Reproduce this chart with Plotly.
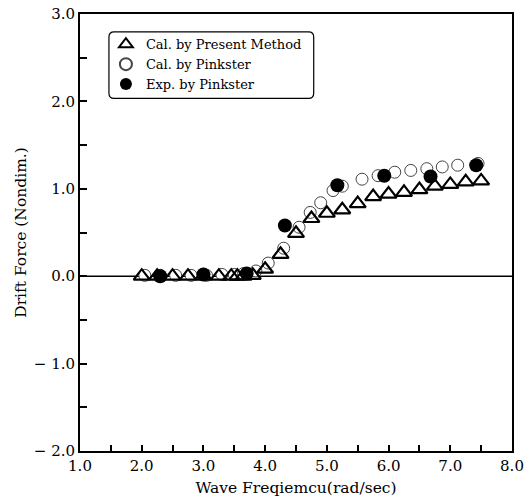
import plotly.graph_objects as go

# ---- data ----
present_x = [2.0, 2.25, 2.5, 2.75, 3.0, 3.25, 3.45, 3.55, 3.65, 3.8, 4.0, 4.25, 4.5, 4.75,
             5.0, 5.25, 5.5, 5.75, 6.0, 6.25, 6.5, 6.75, 7.0, 7.25, 7.5]
present_y = [0.0, 0.0, 0.0, 0.0, 0.0, 0.0, 0.0, 0.0, 0.0, 0.01, 0.08, 0.25, 0.49, 0.66,
             0.72, 0.76, 0.83, 0.91, 0.94, 0.96, 0.99, 1.03, 1.05, 1.08, 1.09]

pink_cal_x = [2.05, 2.3, 2.55, 2.8, 3.05, 3.3, 3.5, 3.65, 3.85, 4.05, 4.3, 4.55, 4.73, 4.9,
              5.1, 5.25, 5.57, 5.83, 6.1, 6.36, 6.62, 6.87, 7.12, 7.45]
pink_cal_y = [0.01, 0.01, 0.01, 0.01, 0.01, 0.02, 0.02, 0.03, 0.06, 0.15, 0.32, 0.56, 0.73, 0.84,
              0.98, 1.03, 1.11, 1.15, 1.19, 1.21, 1.23, 1.25, 1.27, 1.29]

pink_exp_x = [2.3, 3.0, 3.7, 4.32, 5.17, 5.93, 6.68, 7.42]
pink_exp_y = [0.0, 0.02, 0.03, 0.58, 1.04, 1.15, 1.14, 1.27]

x_tickvals = [1.0, 1.5, 2.0, 2.5, 3.0, 3.5, 4.0, 4.5, 5.0, 5.5, 6.0, 6.5, 7.0, 7.5, 8.0]
x_ticktext = ["1.0", "", "2.0", "", "3.0", "", "4.0", "", "5.0", "", "6.0", "", "7.0", "", "8.0"]
y_tickvals = [-2.0, -1.5, -1.0, -0.5, 0.0, 0.5, 1.0, 1.5, 2.0, 2.5, 3.0]
y_ticktext = ["\u2212 2.0", "", "\u2212 1.0", "", "0.0", "", "1.0", "", "2.0", "", "3.0"]

FONT = "DejaVu Serif"

fig = go.Figure()

fig.add_trace(go.Scatter(
    x=pink_cal_x, y=pink_cal_y, mode="markers", name="Cal. by Pinkster",
    legendrank=2,
    marker=dict(symbol="circle", size=12, color="white",
                line=dict(color="#444444", width=1)),
))
fig.add_trace(go.Scatter(
    x=present_x, y=present_y, mode="markers", name="Cal. by Present Method",
    legendrank=1,
    marker=dict(symbol="triangle-up-open", size=14, color="black",
                line=dict(color="black", width=2.2)),
))
fig.add_trace(go.Scatter(
    x=pink_exp_x, y=pink_exp_y, mode="markers", name="Exp. by Pinkster",
    legendrank=3,
    marker=dict(symbol="circle", size=14, color="black",
                line=dict(color="black", width=0)),
))

# zero line
fig.add_shape(type="line", xref="paper", x0=0, x1=1, yref="y", y0=0, y1=0,
              line=dict(color="black", width=1.5), layer="below")

# rounded legend frame (paper coords)
x0, x1, y0, y1, r = 0.067, 0.541, 0.807, 0.959, 0.012
ry = r * 432 / 437
path = (f"M {x0+r},{y1} L {x1-r},{y1} Q {x1},{y1} {x1},{y1-ry} "
        f"L {x1},{y0+ry} Q {x1},{y0} {x1-r},{y0} L {x0+r},{y0} "
        f"Q {x0},{y0} {x0},{y0+ry} L {x0},{y1-ry} Q {x0},{y1} {x0+r},{y1} Z")
fig.add_shape(type="path", xref="paper", yref="paper", path=path,
              line=dict(color="black", width=1.2))

fig.update_layout(
    template="none",
    width=530, height=500,
    margin=dict(l=80, r=18, t=14, b=49),
    paper_bgcolor="white", plot_bgcolor="white",
    font=dict(family=FONT, color="black", size=15),
    showlegend=True,
    legend=dict(x=0.06, y=0.965, xanchor="left", yanchor="top",
                bgcolor="rgba(0,0,0,0)", borderwidth=0,
                font=dict(family=FONT, size=13, color="black"), tracegroupgap=0,
                itemsizing="constant"),
    xaxis=dict(range=[1.0, 8.0], tickvals=x_tickvals, ticktext=x_ticktext,
               ticks="inside", ticklen=6, tickwidth=1.5, tickcolor="black",
               showline=True, linecolor="black", linewidth=2, mirror=True,
               showgrid=False, zeroline=False,
               tickfont=dict(family=FONT, size=15, color="black"),
               title=dict(text="Wave Freqiemcu(rad/sec)", standoff=8,
                          font=dict(family=FONT, size=15.5, color="black"))),
    yaxis=dict(range=[-2.0, 3.0], tickvals=y_tickvals, ticktext=y_ticktext,
               ticks="inside", ticklen=7, tickwidth=1.5, tickcolor="black",
               showline=True, linecolor="black", linewidth=2, mirror=True,
               showgrid=False, zeroline=False,
               tickfont=dict(family=FONT, size=15, color="black"),
               title=dict(text="Drift Force (Nondim.)", standoff=3,
                          font=dict(family=FONT, size=15.5, color="black"))),
)

fig.write_html("out.html")
